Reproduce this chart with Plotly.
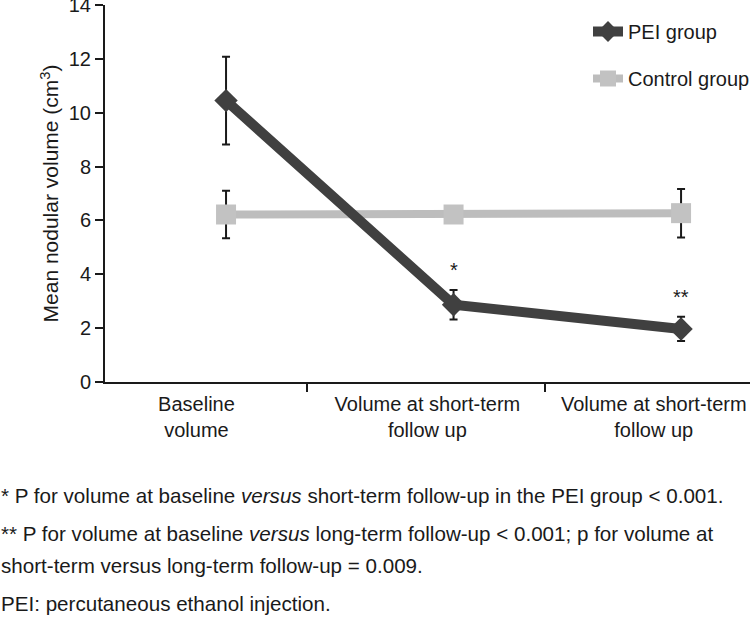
import plotly.graph_objects as go

# ---- data ----
categories = ["Baseline<br>volume", "Volume at short-term<br>follow up", "Volume at short-term<br>follow up"]
pei_mean = [10.45, 2.87, 1.97]
pei_err = [1.63, 0.55, 0.45]
ctrl_mean = [6.22, 6.22, 6.27]
ctrl_err = [0.88, 0.30, 0.90]
y_ticks = [0, 2, 4, 6, 8, 10, 12, 14]
sig_marks = ["", "*", "**"]
footnotes = [
    "* P for volume at baseline <i>versus</i> short-term follow-up in the PEI group < 0.001.",
    "** P for volume at baseline <i>versus</i> long-term follow-up < 0.001; p for volume at",
    "short-term versus long-term follow-up = 0.009.",
    "PEI: percutaneous ethanol injection.",
]

# ---- layout constants ----
FONT = "Liberation Sans, Arial, sans-serif"
TXT = "#1a1a1a"
W, H = 750, 620
ML, MR, MT, MB = 105, 0, 5, 238
PW, PH = W - ML - MR, H - MT - MB
x_idx = list(range(len(categories)))
label_offset = [-0.13, -0.115, -0.12]
boundary_ticks = [0.356, 1.402]


def px_to_paper_y(p):
    return (H - MB - p) / PH


def px_to_paper_x(p):
    return (p - ML) / PW


fig = go.Figure()
fig.add_trace(go.Scatter(
    x=x_idx, y=ctrl_mean, name="Control group", mode="lines+markers",
    line=dict(color="#bdbdbd", width=8),
    marker=dict(symbol="square", size=20, color="#c2c2c2"),
    error_y=dict(type="data", array=ctrl_err, color=TXT, thickness=2, width=4),
    legendgroup="b", legendrank=2,
))
fig.add_trace(go.Scatter(
    x=x_idx, y=pei_mean, name="PEI group", mode="lines+markers",
    line=dict(color="#404040", width=10),
    marker=dict(symbol="diamond", size=18, color="#404040"),
    error_y=dict(type="data", array=pei_err, color=TXT, thickness=2, width=4),
    legendgroup="a", legendrank=1,
))

# significance marks above PEI error bars
for xi, m, v, e in zip(x_idx, sig_marks, pei_mean, pei_err):
    if m:
        fig.add_annotation(x=xi, y=v + e, xref="x", yref="y", text=m, showarrow=False,
                           yanchor="bottom", yshift=7, font=dict(size=20, color=TXT, family=FONT))

# footnotes
foot_y = [495, 533, 565, 603]
for t, yp in zip(footnotes, foot_y):
    fig.add_annotation(x=px_to_paper_x(-1), y=px_to_paper_y(yp), xref="paper", yref="paper",
                       text=t, showarrow=False, xanchor="left", yanchor="middle",
                       font=dict(size=20.6, color=TXT, family=FONT))

fig.update_layout(
    width=W, height=H, autosize=False,
    margin=dict(l=ML, r=MR, t=MT, b=MB, autoexpand=False),
    paper_bgcolor="white", plot_bgcolor="white",
    font=dict(family=FONT, size=20, color=TXT),
    showlegend=True,
    legend=dict(x=px_to_paper_x(588), y=px_to_paper_y(12), xanchor="left", yanchor="top",
                font=dict(size=20, family=FONT, color=TXT),
                bgcolor="rgba(0,0,0,0)", traceorder="grouped", tracegroupgap=18),
)
fig.update_xaxes(
    range=[-0.532, 2.303], showgrid=False, zeroline=False, automargin=False,
    showline=True, linecolor=TXT, linewidth=2,
    tickmode="array", tickvals=[i + o for i, o in zip(x_idx, label_offset)], ticktext=categories,
    ticks="", ticklabelstandoff=3, ticklabeloverflow="allow",
    minor=dict(tickmode="array", tickvals=boundary_ticks, ticks="outside", ticklen=8,
               tickwidth=2, tickcolor=TXT, showgrid=False),
    tickfont=dict(size=20, family=FONT, color=TXT),
)
fig.update_yaxes(
    range=[0, 14], showgrid=False, zeroline=False, automargin=False,
    showline=True, linecolor=TXT, linewidth=2,
    tickmode="array", tickvals=y_ticks, ticks="outside", ticklen=8, tickwidth=2, tickcolor=TXT,
    ticklabeloverflow="allow",
    tickfont=dict(size=20, family=FONT, color=TXT),
    title=dict(text="Mean nodular volume (cm<sup>3</sup>)", font=dict(size=21, family=FONT, color=TXT),
               standoff=4),
)

fig.write_html("out.html", config={"displayModeBar": False},
               post_script="document.body.style.margin='0';document.body.style.padding='0';")
